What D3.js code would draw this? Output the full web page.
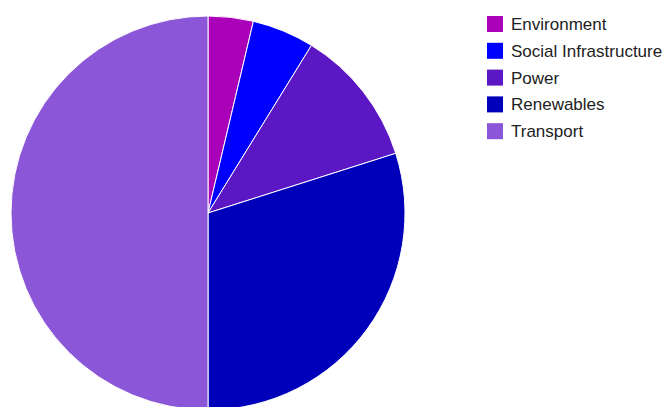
<!DOCTYPE html>
<html>
<head>
<meta charset="utf-8">
<script src="https://cdn.jsdelivr.net/npm/d3@7"></script>
<style>
  html, body { margin: 0; padding: 0; background: #fff; }
  svg { display: block; }
</style>
</head>
<body>
<svg id="chart" width="665" height="407"></svg>
<script>
// Investment share by sector (percent)
const categories = ["Environment", "Social Infrastructure", "Power", "Renewables", "Transport"];
const shares = [3.7, 5.1, 11.3, 29.9, 50.0];
const colors = ["#aa00b8", "#0000ff", "#5c17c4", "#0000bb", "#8b56d7"];

const data = categories.map((c, i) => ({ name: c, value: shares[i] }));

const svg = d3.select("#chart");
const cx = 208, cy = 213, r = 197;

const color = d3.scaleOrdinal().domain(categories).range(colors);

const pie = d3.pie().sort(null).value(d => d.value);
const arc = d3.arc().innerRadius(0).outerRadius(r);

svg.append("g")
  .attr("transform", `translate(${cx},${cy})`)
  .selectAll("path")
  .data(pie(data))
  .join("path")
  .attr("d", arc)
  .attr("fill", d => color(d.data.name))
  .attr("stroke", "#ffffff")
  .attr("stroke-width", 1);

// Legend
const legend = svg.append("g").attr("transform", "translate(487,16)");
const rowH = 26.8;
const rows = legend.selectAll("g")
  .data(categories)
  .join("g")
  .attr("transform", (d, i) => `translate(0,${i * rowH})`);

rows.append("rect")
  .attr("width", 16)
  .attr("height", 16)
  .attr("fill", d => color(d));

rows.append("text")
  .attr("x", 24)
  .attr("y", 14)
  .attr("font-family", "'Liberation Sans', Arial, sans-serif")
  .attr("font-size", 17)
  .attr("fill", "#222")
  .text(d => d);
</script>
</body>
</html>
